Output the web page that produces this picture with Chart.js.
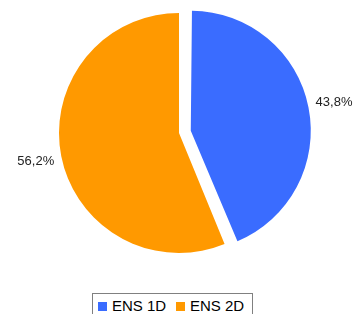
<!DOCTYPE html>
<html>
<head>
<meta charset="utf-8">
<script src="https://cdn.jsdelivr.net/npm/chart.js@4/dist/chart.umd.min.js"></script>
<style>
  html, body { margin: 0; padding: 0; background: #fff; }
  #page { width: 355px; height: 314px; position: relative; overflow: hidden; }
  #wrap { width: 355px; height: 266px; position: absolute; left: 0; top: 0; }
  #legend {
    position: absolute; left: 92px; top: 293px; width: 159px; height: 30px;
    border: 1px solid #808080;
    font: 15px "Liberation Sans", Arial, sans-serif; color: #000;
  }
  #legend .sw { position: absolute; top: 8px; width: 9px; height: 9px; }
  #legend .tx { position: absolute; top: 3px; line-height: 17px; white-space: nowrap; }
</style>
</head>
<body>
<div id="page">
  <div id="wrap"><canvas id="pie"></canvas></div>
  <div id="legend"></div>
</div>
<script>
// --- data ---
const categories = ['ENS 1D', 'ENS 2D'];
const shares = [43.8, 56.2];
const sliceColors = ['#3a6cff', '#ff9900'];

// legend built from the same arrays (left offsets of each item)
const legendX = [5, 83];
const legend = document.getElementById('legend');
categories.forEach((name, i) => {
    const sw = document.createElement('span');
    sw.className = 'sw';
    sw.style.left = legendX[i] + 'px';
    sw.style.background = sliceColors[i];
    const tx = document.createElement('span');
    tx.className = 'tx';
    tx.style.left = (legendX[i] + 14) + 'px';
    tx.textContent = name;
    legend.appendChild(sw);
    legend.appendChild(tx);
});

// Chart.js grows an offset slice's radius a bit; pull it back so the
// exploded slice keeps the same radius as the rest
const keepRadius = {
    id: 'keepRadius',
    beforeDatasetsDraw(chart) {
        const meta = chart.getDatasetMeta(0);
        const base = meta.controller.outerRadius;
        meta.data.forEach(arc => {
            const off = (arc.options.offset || 0) / 4;
            const fix = 1 - Math.sin(Math.min(Math.PI, arc.circumference || 0));
            arc.outerRadius = base - off * fix;
        });
    }
};

// labels outside each slice, comma decimal
const outsideLabels = {
    id: 'outsideLabels',
    afterDatasetsDraw(chart) {
        const ctx = chart.ctx;
        const meta = chart.getDatasetMeta(0);
        const base = meta.controller.outerRadius;
        ctx.save();
        ctx.font = '13px "Liberation Sans", Arial, sans-serif';
        ctx.fillStyle = '#222';
        ctx.textAlign = 'center';
        ctx.textBaseline = 'middle';
        meta.data.forEach((arc, i) => {
            const mid = (arc.startAngle + arc.endAngle) / 2;
            const off = (arc.options.offset || 0) / 4;
            const r = base + off + 26;
            const x = arc.x + Math.cos(mid) * r;
            const y = arc.y + Math.sin(mid) * r;
            ctx.fillText(shares[i].toFixed(1).replace('.', ',') + '%', x, y);
        });
        ctx.restore();
    }
};

new Chart(document.getElementById('pie'), {
    type: 'pie',
    data: {
        labels: categories,
        datasets: [{
            data: shares,
            backgroundColor: sliceColors,
            borderWidth: 0,
            offset: [48, 0]
        }]
    },
    options: {
        responsive: true,
        maintainAspectRatio: false,
        animation: false,
        radius: 120,
        layout: { padding: { left: 3 } },
        plugins: {
            tooltip: { enabled: false },
            legend: { display: false }
        }
    },
    plugins: [keepRadius, outsideLabels]
});
</script>
</body>
</html>
